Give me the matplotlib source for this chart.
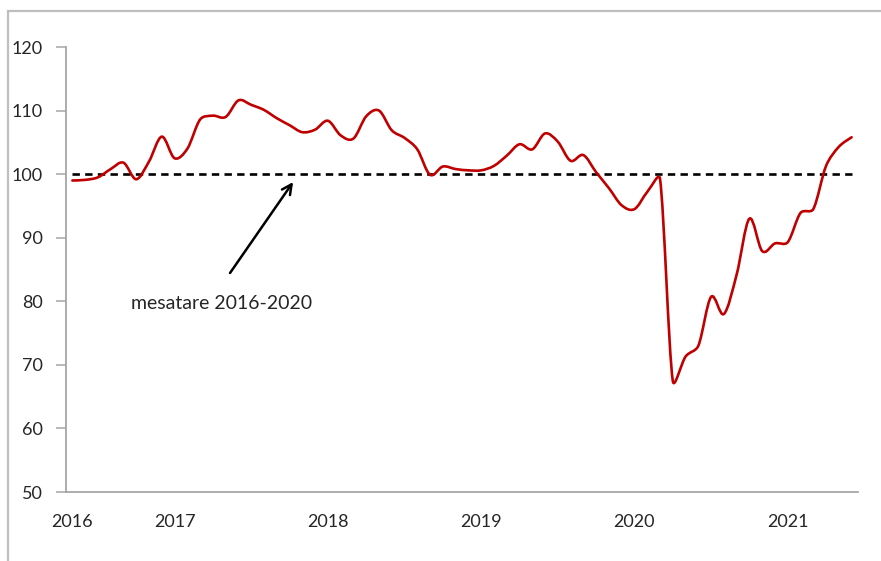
import numpy as np
import pandas as pd
import matplotlib
matplotlib.use("Agg")
import matplotlib.pyplot as plt
from matplotlib.path import Path
from matplotlib.patches import PathPatch, Rectangle

# ---- data ----
start_month = "2016-05"
values = [99.0, 99.1, 99.5, 100.8, 101.8, 99.2, 102.0, 105.9, 102.5, 104.0,
          108.6, 109.2, 109.0, 111.6, 110.9, 110.1, 108.8, 107.7, 106.6, 107.0,
          108.4, 106.1, 105.6, 109.1, 110.0, 106.9, 105.7, 103.9, 99.9, 101.2,
          100.8, 100.6, 100.6, 101.3, 102.9, 104.7, 103.9, 106.4, 105.1, 102.1,
          103.0, 100.3, 97.8, 95.1, 94.5, 97.2, 99.3, 67.5, 71.3, 73.0,
          80.7, 78.0, 84.2, 93.0, 87.9, 89.1, 89.3, 93.9, 94.5, 101.3,
          104.3, 105.8]
average_level = 100
annotation_text = "mesatare 2016-2020"
y_ticks = [50, 60, 70, 80, 90, 100, 110, 120]

months = pd.period_range(start=start_month, periods=len(values), freq="M")
x = np.arange(len(values))
tick_idx = [i for i, m in enumerate(months) if i == 0 or m.month == 1]
tick_lab = [str(months[i].year) for i in tick_idx]

FONT = ["Lato", "DejaVu Sans"]
plt.rcParams["font.family"] = FONT

fig = plt.figure(figsize=(8.81, 5.61), dpi=100)
W, H = 881, 561
ax = fig.add_axes([66 / W, (H - 492) / H, (858 - 66) / W, (492 - 47) / H])
ax.set_xlim(-0.5, len(values) - 0.5)
ax.set_ylim(50, 120)

# outer chart frame (cut at right/bottom)
fig.patches.append(Rectangle((8 / W, -0.05), 1.2, (H - 11) / H + 0.05,
                             transform=fig.transFigure, fill=False,
                             edgecolor="#bfbfbf", linewidth=1.6))


def smooth_path(xs, ys, clamp=0.4):
    """Catmull-Rom style Bezier smoothing in screen space, with handle
    lengths limited relative to the segment length (limits overshoot)."""
    pts = ax.transData.transform(np.column_stack([xs, ys]))
    n = len(pts)
    verts = [pts[0]]
    codes = [Path.MOVETO]

    def limit(h, L):
        d = np.hypot(*h)
        m = clamp * L
        return h * (m / d) if d > m else h

    for i in range(n - 1):
        p0 = pts[i - 1] if i > 0 else pts[i]
        p1 = pts[i]
        p2 = pts[i + 1]
        p3 = pts[i + 2] if i + 2 < n else pts[i + 1]
        L = np.hypot(*(p2 - p1))
        c1 = p1 + limit((p2 - p0) / 6.0, L)
        c2 = p2 - limit((p3 - p1) / 6.0, L)
        verts += [c1, c2, p2]
        codes += [Path.CURVE4] * 3
    verts = ax.transData.inverted().transform(np.array(verts))
    return Path(verts, codes)


avg = [average_level] * len(values)
ax.plot(x, avg, color="black", linewidth=1.9, linestyle=(0, (2.8, 2.0)), zorder=2)
ax.add_patch(PathPatch(smooth_path(x, values), facecolor="none",
                       edgecolor="#c00000", linewidth=1.9, zorder=3,
                       capstyle="round", joinstyle="round"))

ax.set_yticks(y_ticks)
ax.set_xticks(tick_idx)
ax.set_xticklabels(tick_lab)

for s in ["top", "right"]:
    ax.spines[s].set_visible(False)
for s in ["left", "bottom"]:
    ax.spines[s].set_color("#a6a6a6")
    ax.spines[s].set_linewidth(1.3)
ax.tick_params(axis="y", direction="out", length=7, width=1.1, color="#a6a6a6",
               labelsize=13, labelcolor="#262626", pad=10)
ax.tick_params(axis="x", length=0, labelsize=13, labelcolor="#262626", pad=16)

ax.annotate("", xy=(17.28, 98.76), xytext=(12.34, 84.45),
            arrowprops=dict(arrowstyle="->,head_length=0.7,head_width=0.35",
                            color="black", linewidth=1.8, shrinkA=0, shrinkB=0))
ax.text(11.7, 79.7, annotation_text, ha="center", va="center", fontsize=14,
        color="#262626")

fig.savefig("out.png", dpi=100)
